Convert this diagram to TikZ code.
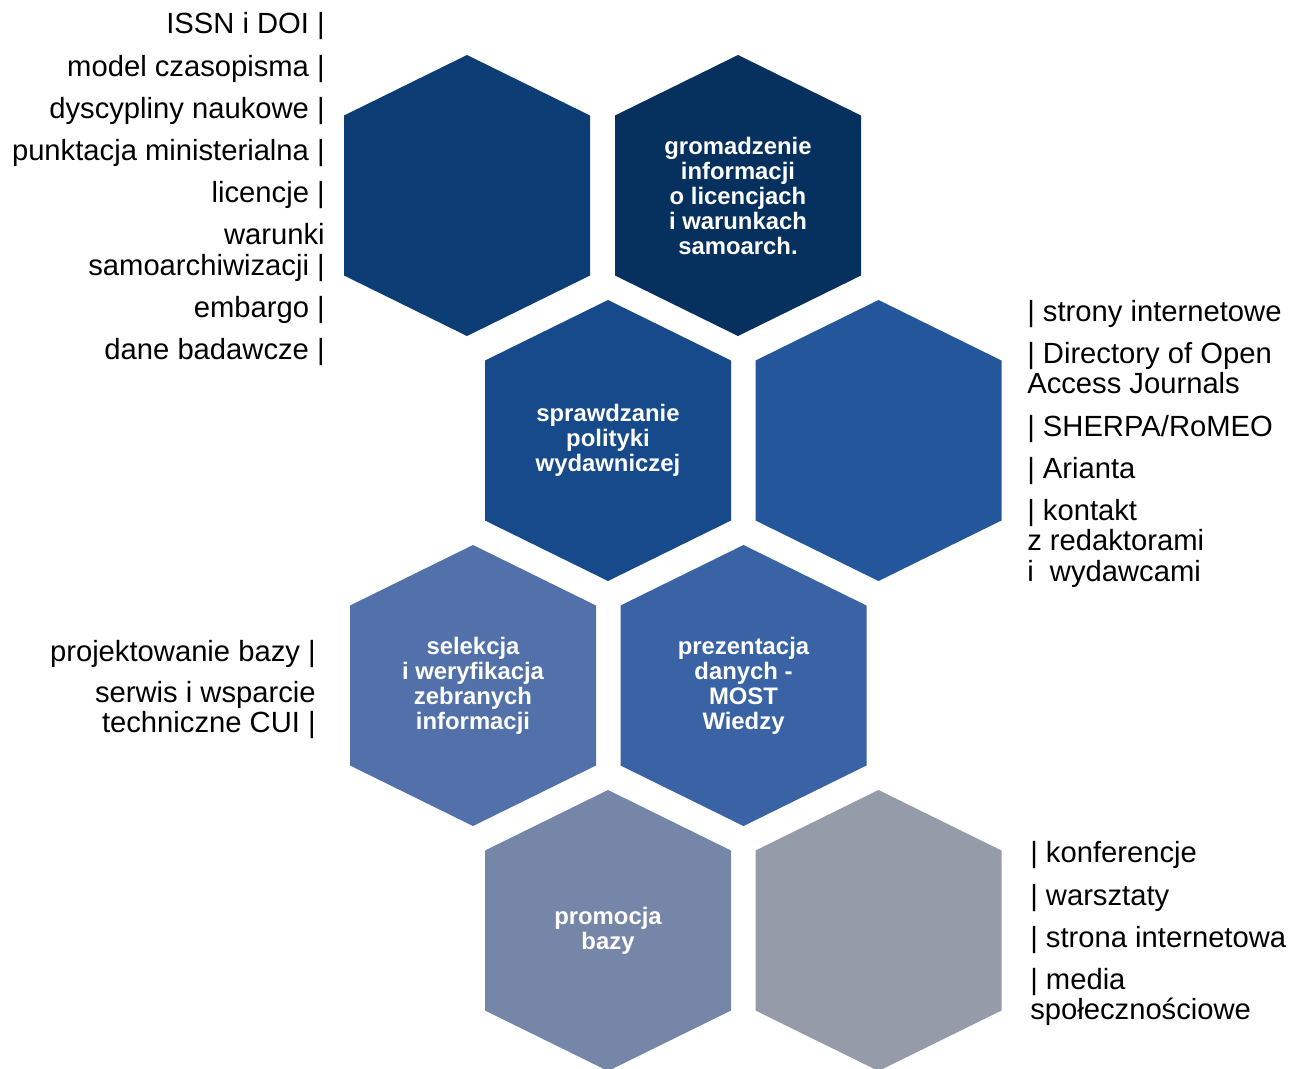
\documentclass[tikz,border=0pt]{standalone}
\usepackage{fontspec}
\setmainfont{Liberation Sans}
\usepackage{tikz}
\usetikzlibrary{positioning}

\definecolor{hexA}{RGB}{12,61,117}
\definecolor{hexB}{RGB}{6,48,94}
\definecolor{hexC}{RGB}{23,74,138}
\definecolor{hexD}{RGB}{36,86,155}
\definecolor{hexE}{RGB}{82,113,171}
\definecolor{hexF}{RGB}{58,99,166}
\definecolor{hexG}{RGB}{118,134,169}
\definecolor{hexH}{RGB}{150,155,170}

\begin{document}
\begin{tikzpicture}[x=0.75pt,y=-0.75pt]
	\tikzstyle{Stage}	= [text=white, align=center, inner sep=0pt, font=\bfseries\fontsize{17.9}{18.75}\selectfont]
	\tikzstyle{Before}	= [anchor=base east, inner sep=0pt, font=\fontsize{21.9}{23.25}\selectfont]
	\tikzstyle{After}	= [anchor=base west, inner sep=0pt, font=\fontsize{21.9}{23.25}\selectfont]

	\useasboundingbox (0,0) rectangle (1289,1068);

	% honeycomb
	\foreach \n/\x/\y/\c in {a/467/195.5/hexA, b/738/195.5/hexB, c/608/440.5/hexC, d/878.5/440.5/hexD, e/473/685.5/hexE, f/743.5/685.5/hexF, g/608/930.5/hexG, h/878.5/930.5/hexH}
	{
		\coordinate (h\n) at (\x, \y);
		\fill [\c] (h\n) ++(0,-140.5) -- ++(123,60.5) -- ++(0,160) -- ++(-123,60.5) -- ++(-123,-60.5) -- ++(0,-160) -- cycle;
	}

	\node (sb) at (hb) [Stage] {gromadzenie\\informacji\\o licencjach\\i warunkach\\samoarch.};
	\node (sc) at (hc) [Stage] {sprawdzanie\\polityki\\wydawniczej};
	\node (se) at (he) [Stage] {selekcja\\i weryfikacja\\zebranych\\informacji};
	\node (sf) at (hf) [Stage] {prezentacja\\danych -\\MOST\\Wiedzy};
	\node (sg) at (hg) [Stage] {promocja\\bazy};

	% side lists
	\foreach \i/\y/\t in {1/33/{ISSN i DOI |}, 2/76/{model czasopisma |}, 3/118/{dyscypliny naukowe |}, 4/160/{punktacja ministerialna |}, 5/202/{licencje |}, 6/244/{warunki}, 7/275/{samoarchiwizacji |}, 8/317/{embargo |}, 9/359/{dane badawcze |}}
		\node (la\i) at (325, \y) [Before] {\t};
	\foreach \i/\y/\t in {1/661/{projektowanie bazy |}, 2/702/{serwis i wsparcie}, 3/732/{techniczne CUI |}}
		\node (le\i) at (316, \y) [Before] {\t};
	\foreach \i/\y/\t in {1/321/{| strony internetowe}, 2/363/{| Directory of Open}, 3/393/{Access Journals}, 4/436/{| SHERPA/RoMEO}, 5/478/{| Arianta}, 6/520/{| kontakt}, 7/550/{z redaktorami}, 8/581/{i\ \ wydawcami}}
		\node (rd\i) at (1027, \y) [After] {\t};
	\foreach \i/\y/\t in {1/862/{| konferencje}, 2/905/{| warsztaty}, 3/947/{| strona internetowa}, 4/989/{| media}, 5/1019/{społecznościowe}}
		\node (rh\i) at (1030, \y) [After] {\t};
\end{tikzpicture}
\end{document}
